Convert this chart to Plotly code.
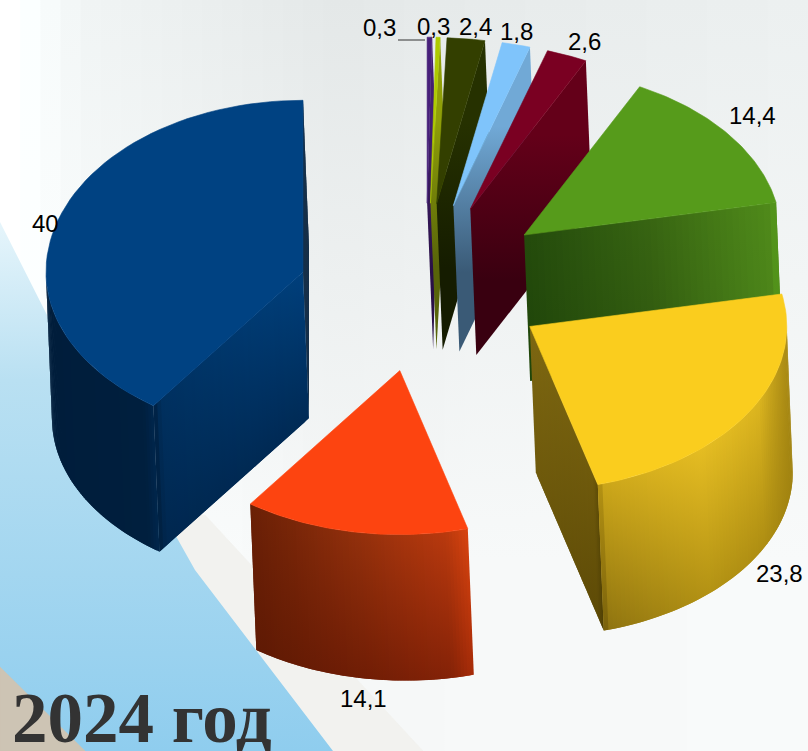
import numpy as np
import plotly.graph_objects as go

# chart data, clockwise from 12 o'clock
values = [0.3, 0.3, 2.4, 1.8, 2.6, 14.4, 23.8, 14.1, 40]
title_text = "2024 год"

# top face colours
top_colors = ["#47207a", "#aecb00", "#333f00", "#7fc4fb", "#7a0022", "#569b1b", "#facd1e", "#fd4410", "#004282"]

# pie geometry in pixels
cx, cy = 426, 284
rx = 257
ry_back, ry_front = 166, 164
ry_back_blue = 172
explode = 0.47
depth, shear = 146, 6
nudge = [(0, 0), (1, 0), (-3, 0), (-2, 0), (-1, 0), (2, 0), (1, 0), (-5, 7), (-8, 13)]

label_xy = [(379, 27), (433, 26), (475, 26), (516, 31), (584, 41), (752, 115), (779, 573), (363, 698), (45, 223)]

# shading of the side walls, left to right: [position, top colour, bottom colour]
cut_shades = {
    0: ("end", [[0, "#43206f", "#2a1048"], [1, "#43206f", "#2a1048"]]),
    1: ("end", [[0, "#8f9f08", "#58640a"], [1, "#8f9f08", "#58640a"]]),
    2: ("end", [[0, "#263100", "#151c00"], [1, "#263100", "#151c00"]]),
    3: ("end", [[0, "#71a9d6", "#3a5a76"], [1, "#71a9d6", "#3a5a76"]]),
    4: ("end", [[0, "#640019", "#390010"], [1, "#640019", "#390010"]]),
    5: ("end", [[0, "#234a0c", "#1f4409"], [0.5, "#386512", "#30590f"], [0.97, "#4f8a1a", "#4b8319"], [1, "#569b1b", "#559a1b"]]),
    6: ("end", [[0, "#7d6711", "#6f5a0c"], [0.92, "#6f5a0c", "#5d4a06"], [1, "#5f4c07", "#4e3e04"]]),
    8: ("start", [[0, "#001f3f", "#001f3e"], [0.05, "#00305f", "#00274f"], [1, "#003f7b", "#002a55"]]),
}
cut_shades_back = {8: ("end", [[0, "#001c38", "#001c38"], [1, "#001c38", "#001c38"]])}
wall_shades = {
    6: [[0, "#a5850f", "#6b5507"], [0.03, "#cba61a", "#8f7410"], [0.55, "#e4bc22", "#b39214"], [0.85, "#dcb51f", "#ad8d12"], [1, "#a98a14", "#a08210"]],
    7: [[0, "#6a2006", "#5f1a04"], [0.5, "#93300c", "#701d05"], [0.9, "#b9390e", "#842207"], [1, "#d8440f", "#a82c08"]],
    8: [[0, "#001d3b", "#001d3b"], [0.9, "#001f3e", "#001f3e"], [1, "#00264c", "#00264c"]],
}


def hex_rgb(c):
    return np.array([int(c[i:i + 2], 16) for i in (1, 3, 5)], dtype=float)


def rgb(c):
    return "rgb(%d,%d,%d)" % tuple(np.round(c))


def pick(stops, u, col):
    pos = [s[0] for s in stops]
    chan = np.array([hex_rgb(s[col]) for s in stops])
    return np.array([np.interp(u, pos, chan[:, k]) for k in range(3)])


fig = go.Figure()


def poly(x, y, color):
    fig.add_trace(go.Scatter(x=x, y=y, mode="lines", fill="toself", fillcolor=color,
                             line=dict(color=color, width=0.6), hoverinfo="skip", showlegend=False))


def wall(x, y, stops):
    # side wall below a top edge, cut in strips so it can shade both ways
    x = np.asarray(x)
    y = np.asarray(y)
    n = len(x) - 1
    span = max(x.max() - x.min(), 1)
    for i in range(n):
        u = ((x[i] + x[i + 1]) / 2 - x.min()) / span
        c_top = pick(stops, u, 1)
        c_bot = pick(stops, u, 2)
        j = min(i + 2, n)
        xs = [x[i], x[j], x[j] + shear, x[i] + shear, x[i]]
        ys = [y[i], y[j], y[j] + depth, y[i] + depth, y[i]]
        y0 = (y[i] + y[j]) / 2
        fig.add_trace(go.Scatter(
            x=xs, y=ys, mode="lines", fill="toself", line=dict(width=0),
            fillgradient=dict(type="vertical", start=y0, stop=y0 + depth,
                              colorscale=[[0, rgb(c_top)], [1, rgb(c_bot)]]),
            hoverinfo="skip", showlegend=False))


# background
bg_x = np.linspace(0, 808, 41)
for i in range(40):
    t = i / 39
    top = np.interp(t, [0, 0.1, 0.4, 1], [255, 240, 228, 236])
    bot = np.interp(t, [0, 0.4, 1], [255, 246, 248])
    fig.add_trace(go.Scatter(
        x=[bg_x[i], bg_x[i + 1] + 1, bg_x[i + 1] + 1, bg_x[i], bg_x[i]], y=[0, 0, 751, 751, 0],
        mode="lines", fill="toself", line=dict(width=0),
        fillgradient=dict(type="vertical", start=0, stop=560,
                          colorscale=[[0, rgb([top, min(top + 4, 255), min(top + 4, 255)])],
                                      [1, rgb([bot, min(bot + 2, 255), min(bot + 2, 255)])]]),
        hoverinfo="skip", showlegend=False))

poly([150, 205, 423, 300, 150], [520, 515, 751, 751, 520], "#f2f2ef")
fig.add_trace(go.Scatter(
    x=[0, 48, 177, 195, 333, 0, 0], y=[222, 317, 538, 570, 751, 751, 222],
    mode="lines", fill="toself", line=dict(width=0),
    fillgradient=dict(type="vertical", start=222, stop=751,
                      colorscale=[[0, "#e6f5fb"], [0.3, "#b9e0f2"], [1, "#8fcdee"]]),
    hoverinfo="skip", showlegend=False))
poly([0, 85, 0, 0], [667, 751, 751, 667], "#cdc4b4")

# slices
edges = np.concatenate([[0], np.cumsum(values)]) * 360.0 / sum(values)
for k in range(len(values)):
    a0, a1 = edges[k], edges[k + 1]
    mid = np.radians((a0 + a1) / 2)
    ax = cx + explode * rx * np.sin(mid) + nudge[k][0]
    ay = cy - explode * 172 * np.cos(mid) + nudge[k][1]
    back = ry_back_blue if k == len(values) - 1 else ry_back

    def rim(deg):
        t = np.radians(deg)
        c = np.cos(t)
        return ax + rx * np.sin(t), ay - np.where(c > 0, back, ry_front) * c

    def cut_wall(spec):
        deg = a0 if spec[0] == "start" else a1
        ex, ey = rim(deg)
        n = 40 if k >= 5 else 1
        wall(np.linspace(ax, ex, n + 1), np.linspace(ay, ey, n + 1), spec[1])

    if k in cut_shades_back:
        cut_wall(cut_shades_back[k])
    if k in cut_shades:
        cut_wall(cut_shades[k])
    if k in wall_shades:
        lo, hi = max(a0, 90), min(a1, 270)
        wx, wy = rim(np.linspace(lo, hi, 71))
        wall(wx, wy, wall_shades[k])
    ex, ey = rim(np.linspace(a0, a1, 61))
    poly([ax, *ex, ax], [ay, *ey, ay], top_colors[k])

annotations = []
for v, (lx, ly) in zip(values, label_xy):
    annotations.append(dict(x=lx, y=ly, text=f"{v:g}".replace(".", ","), showarrow=False,
                            font=dict(family="Liberation Sans", size=24, color="#000000")))
annotations.append(dict(x=10, y=718, text="<b>" + title_text + "</b>", showarrow=False, xanchor="left",
                        font=dict(family="Liberation Serif", size=71, color="#333333")))

fig.update_layout(
    width=808, height=751, margin=dict(l=0, r=0, t=0, b=0),
    paper_bgcolor="#f4f7f8", plot_bgcolor="#f4f7f8", showlegend=False,
    xaxis=dict(range=[0, 808], visible=False, fixedrange=True),
    yaxis=dict(range=[751, 0], visible=False, fixedrange=True),
    annotations=annotations,
    shapes=[dict(type="line", x0=398, x1=425, y0=40, y1=40, line=dict(color="#333333", width=1))],
)
fig.write_html("out.html", config=dict(displayModeBar=False),
               post_script="document.body.style.margin='0';document.body.style.overflow='hidden';")
